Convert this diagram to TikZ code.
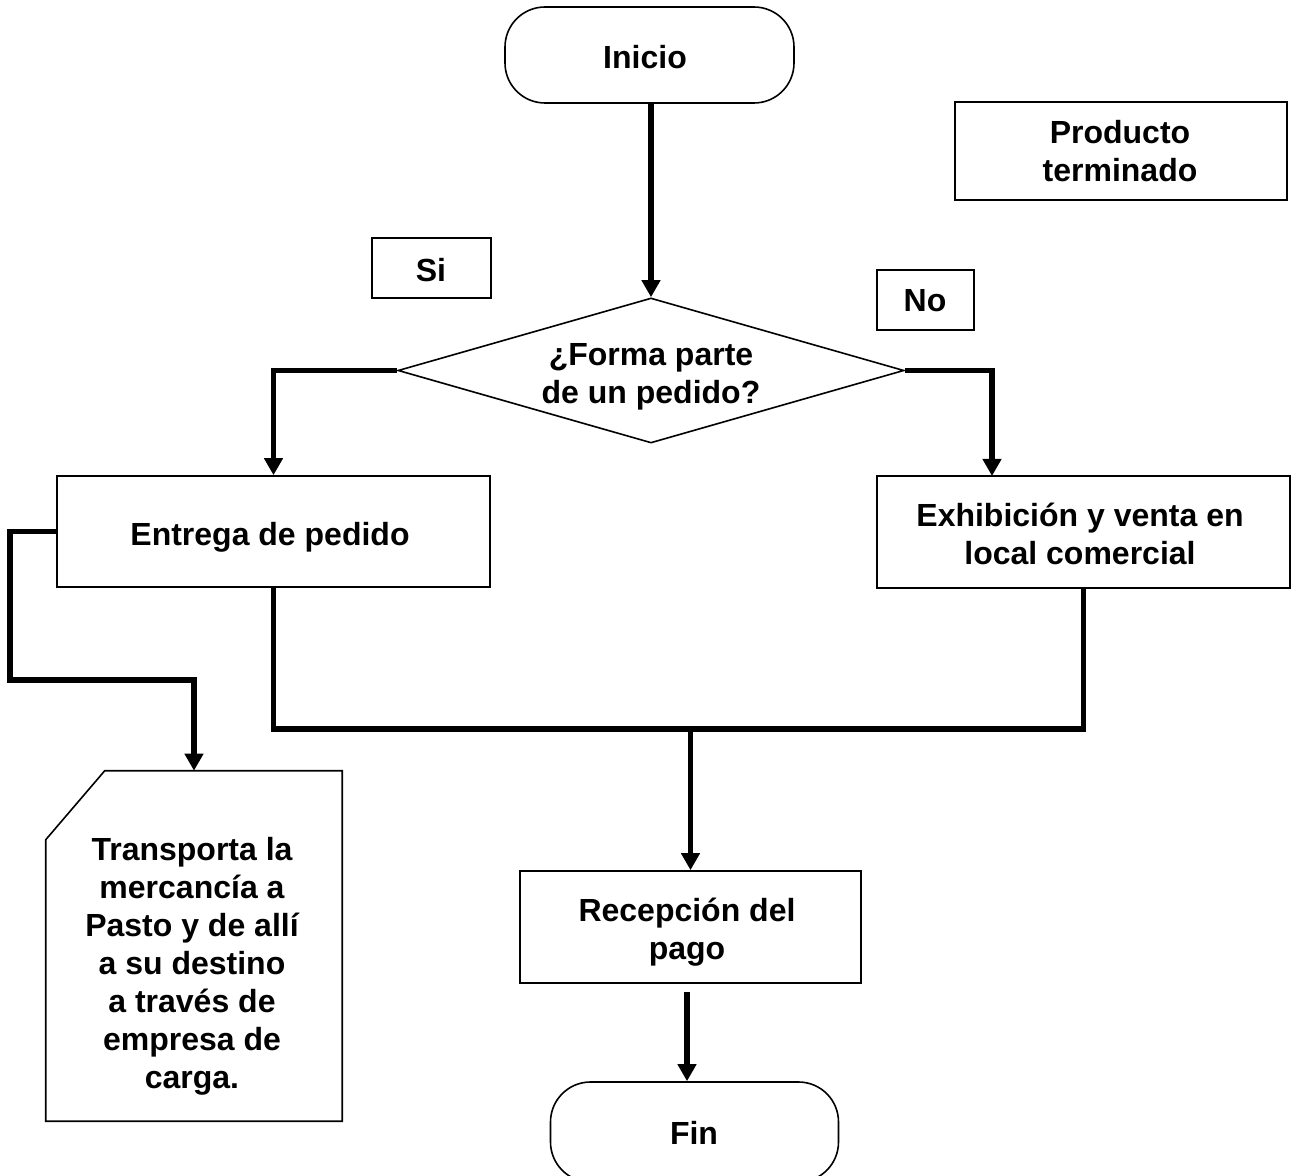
\documentclass[tikz,border=0pt]{standalone}
\usepackage{fontspec}
\setmainfont{Liberation Sans}
\usetikzlibrary{arrows.meta,shapes.geometric,calc}
\newcommand{\pxu}[1]{#1*0.75pt}
\begin{document}
\begin{tikzpicture}[x=0.75pt,y=-0.75pt,
  txt/.style={font=\fontsize{24}{28.5}\selectfont\bfseries, align=center, inner sep=0pt},
  boxnode/.style={draw, line width=1.2pt, rectangle, inner sep=0pt},
  term/.style={boxnode, rounded corners=30pt},
  conn/.style={line width=4.3pt, line join=miter},
  arr/.style={conn, -{Triangle[length=12.75pt,width=13.5pt]}},
]
\useasboundingbox (0,0) rectangle (1296,1176);

% shapes
\node[term, minimum width=\pxu{289}, minimum height=\pxu{96}] (inicio) at (649.5,55) {};
\node[boxnode, minimum width=\pxu{332}, minimum height=\pxu{98}] (prod) at (1121,151) {};
\node[boxnode, minimum width=\pxu{119}, minimum height=\pxu{60}] (si) at (431.5,268) {};
\node[boxnode, minimum width=\pxu{97}, minimum height=\pxu{60}] (no) at (925.5,300) {};
\node[draw, diamond, line width=1.2pt, inner sep=0pt, aspect=3.5, minimum width=\pxu{506}, minimum height=\pxu{145}] (dec) at (651,370.5) {};
\node[boxnode, minimum width=\pxu{433}, minimum height=\pxu{111}] (entrega) at (273.5,531.5) {};
\node[boxnode, minimum width=\pxu{413}, minimum height=\pxu{112}] (exhib) at (1083.5,532) {};
\node[boxnode, minimum width=\pxu{341}, minimum height=\pxu{112}] (recep) at (690.5,927) {};
\node[term, minimum width=\pxu{288}, minimum height=\pxu{100}] (fin) at (694.5,1132) {};

% chamfered document box
\node[minimum width=\pxu{296}, minimum height=\pxu{350}, inner sep=0pt] (transp) at (194,946) {};
\draw[line width=1.2pt, line join=miter] ($(transp.north west)+(59,0)$) -- (transp.north east) -- (transp.south east) -- (transp.south west) -- ($(transp.north west)+(0,69)$) -- cycle;

% texts
\node[txt] (inicioT) at (645,57) {Inicio};
\node[txt] (prodT) at (1120,151.5) {Producto\\terminado};
\node[txt] (siT) at (431,270) {Si};
\node[txt] (noT) at (925,301) {No};
\node[txt] (decT) at (651,376.5) {¿Forma parte\\de un pedido?};
\node[txt] (entregaT) at (270,537) {Entrega de pedido};
\node[txt] (exhibT) at (1080,533.5) {Exhibición y venta en\\local comercial};
\node[txt] (recepT) at (687,932) {Recepción del\\pago};
\node[txt] (finT) at (694,1133) {Fin};
\node[txt] (transpT) at (192,966) {Transporta la\\mercancía a\\Pasto y de allí\\a su destino\\a través de\\empresa de\\carga.};

% coordinates
\coordinate (exin) at (992,476);
\coordinate (l1) at (10,680);
\coordinate (merge) at (690.5,729);
\coordinate (finin) at (687,992);

% connectors
\draw[arr] (inicio.south -| dec.north) -- (dec.north);
\draw[arr] (dec.west) -| (entrega.north);
\draw[arr] (dec.east) -| (exin);
\draw[arr] (entrega.west) -| (l1) -| (transp.north);
\draw[conn] (entrega.south) |- (merge) -| (exhib.south);
\draw[arr] (merge) -- (recep.north);
\draw[arr] (finin) -- (finin |- fin.north);
\end{tikzpicture}
\end{document}
